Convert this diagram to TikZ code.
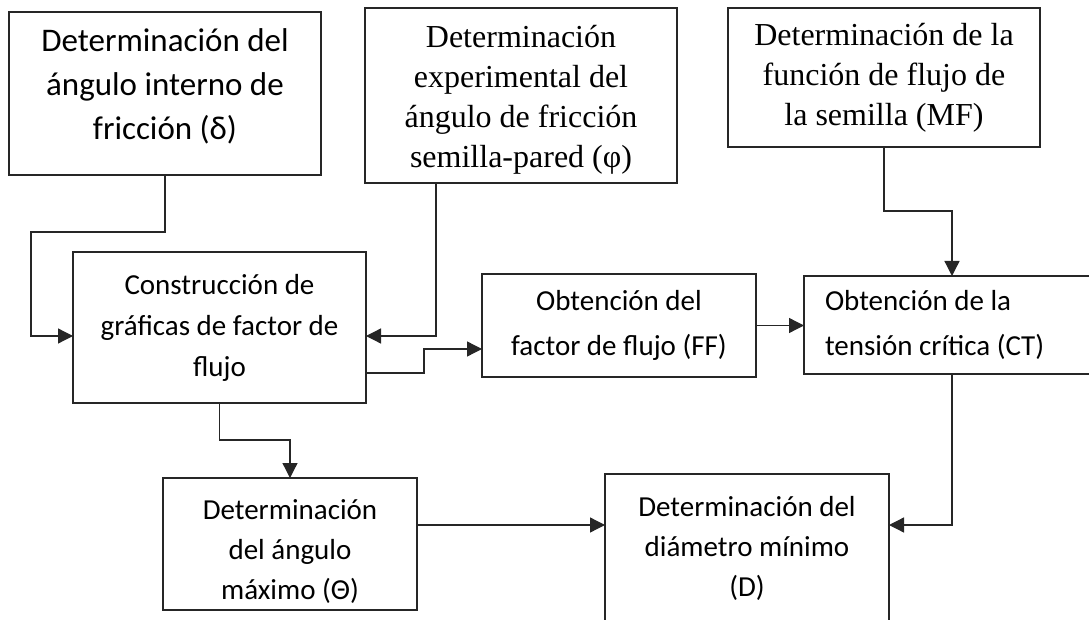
\documentclass[tikz,border=0pt]{standalone}
\usepackage{fontspec}
\setmainfont{Carlito}
\newfontfamily\tnr{Liberation Serif}
\usetikzlibrary{arrows.meta}
\begin{document}
\begin{tikzpicture}[x=1pt,y=-1pt,
  box/.style={draw=black!85, line width=1.3pt, inner sep=0pt, outer sep=0pt, anchor=north west, align=center},
  sansA/.style={font=\fontsize{29}{40}\selectfont},
  sansB/.style={font=\fontsize{29}{45}\selectfont},
  serif/.style={font=\tnr\fontsize{32}{40}\selectfont},
  conn/.style={draw=black!85, line width=1.3pt, -{Triangle[length=15pt,width=15pt]}}]
\useasboundingbox (0,0) rectangle (1089,620);
\clip (0,0) rectangle (1089,620);
\node[box, minimum width=312pt, minimum height=163pt, font=\fontsize{33}{44}\selectfont] (b1) at (9,12) {Determinación del\\ángulo interno de\\fricción (δ)\rule[-18pt]{0pt}{18pt}};
\node[box, serif, minimum width=312pt, minimum height=175pt] (b2) at (365,8) {\rule{0pt}{30pt}Determinación\\experimental del\\ángulo de fricción\\semilla-pared (φ)};
\node[box, serif, minimum width=312pt, minimum height=139pt] (b3) at (728,8) {Determinación de la\\función de flujo de\\la semilla (MF)};
\node[box, font=\fontsize{29}{41}\selectfont, minimum width=293pt, minimum height=151pt] (b4) at (73,252) {Construcción de\\gráficas de factor de\\flujo};
\node[box, sansB, minimum width=274pt, minimum height=103pt] (b5) at (482,274) {Obtención del\\factor de flujo (FF)};
\node[box, sansB, align=flush left, text width=254pt, inner xsep=21pt, minimum height=98pt] (b6) at (804,276) {Obtención de la\\tensión crítica (CT)};
\node[box, sansA, minimum width=254pt, minimum height=132pt] (b7) at (163,478) {\rule{0pt}{36pt}Determinación\\del ángulo\\máximo (Θ)};
\node[box, sansA, minimum width=284pt, minimum height=148pt] (b8) at (605,474) {Determinación del\\diámetro mínimo\\(D)\rule[-4pt]{0pt}{4pt}};
\draw[conn] (b1.south) |- (31,232) |- (b4.west |- 0,336);
\draw[conn] (b2.south -| 436,0) |- (b4.east |- 0,336);
\draw[conn] (b4.east |- 0,373) -| (424,349) -- (b5.west |- 0,349);
\draw[conn] (b5.east) -- (b6.west |- b5.east);
\draw[conn] (b3.south) |- (952,211) -- (b6.north);
\draw[conn] (b4.south) |- (290,440) -- (b7.north);
\draw[conn] (b7.east |- 0,525) -- (b8.west |- 0,525);
\draw[conn] (b6.south) |- (b8.east |- 0,525);
\end{tikzpicture}
\end{document}
